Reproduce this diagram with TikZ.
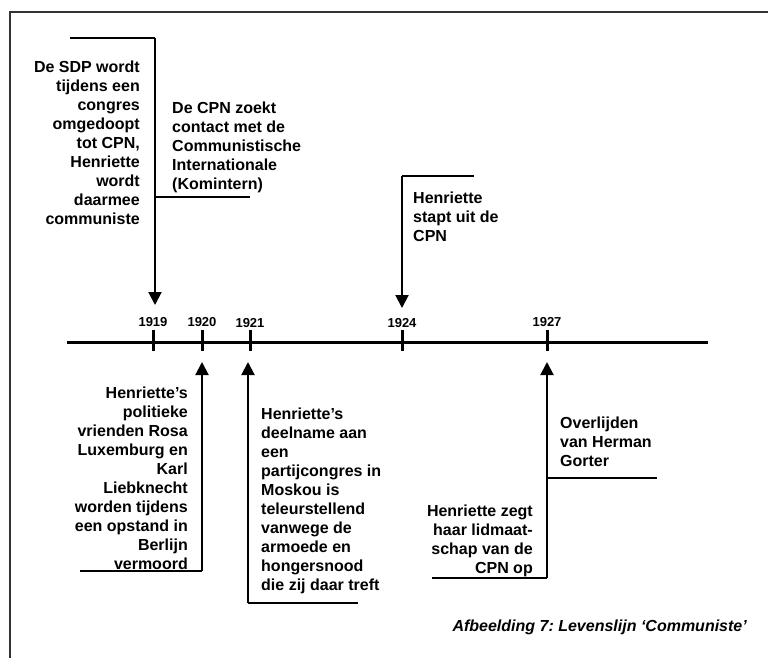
\documentclass[tikz,border=0pt]{standalone}
\usepackage{fontspec}
\setmainfont{Liberation Sans}
\usetikzlibrary{arrows.meta}
\frenchspacing
\begin{document}
\begin{tikzpicture}[x=1pt,y=-1pt,
  frame/.style={line width=2pt,draw=black!80},
  axis/.style={line width=3pt},
  tick/.style={line width=3pt},
  conn/.style={line width=2pt},
  arr/.style={line width=2pt,-{Triangle[width=13pt,length=13pt]}},
  yearlbl/.style={font=\fontsize{13}{15}\selectfont\bfseries,inner sep=0pt},
  txt/.style={font=\fontsize{16}{19}\selectfont\bfseries,inner sep=0pt},
  capt/.style={font=\fontsize{16}{19}\selectfont\bfseries\itshape,inner sep=0pt}]
\useasboundingbox (0,0) rectangle (768,657);
% frame
\coordinate (fbl) at (10,660);
\coordinate (ftl) at (10,12);
\coordinate (ftr) at (770,12);
\draw[frame] (fbl) -- (ftl) -- (ftr);
% timeline
\coordinate (tl0) at (67,342);
\coordinate (tl1) at (708,342);
\draw[axis] (tl0) -- (tl1);
\foreach \n/\x in {a/153,b/202,c/250,d/402,e/547}{
  \coordinate (t\n top) at (\x,330);
  \coordinate (t\n bot) at (\x,351);
  \draw[tick] (t\n top) -- (t\n bot);
}
\node[yearlbl] (y1919) at (153,322) {1919};
\node[yearlbl] (y1920) at (202,322) {1920};
\node[yearlbl] (y1921) at (250,323) {1921};
\node[yearlbl] (y1924) at (402,323) {1924};
\node[yearlbl] (y1927) at (547,322) {1927};
% 1919
\coordinate (a0) at (70,38);
\coordinate (a1) at (155,38);
\coordinate (a2) at (155,197);
\coordinate (a3) at (250,197);
\coordinate (a4) at (155,305);
\draw[conn] (a0) -- (a1);
\draw[arr] (a1) -- (a4);
\draw[conn] (a2) -- (a3);
\node[txt,align=right,anchor=north east] (t1) at (140,61) {De SDP wordt\\tijdens een\\congres\\omgedoopt\\tot CPN,\\Henriette\\wordt\\daarmee\\communiste};
\node[txt,align=left,anchor=north west] (t2) at (172,102) {De CPN zoekt\\contact met de\\Communistische\\Internationale\\(Komintern)};
% 1924
\coordinate (d0) at (474,176);
\coordinate (d1) at (402,176);
\coordinate (d2) at (402,308);
\draw[conn] (d0) -- (d1);
\draw[arr] (d1) -- (d2);
\node[txt,align=left,anchor=north west] (t3) at (413,192) {Henriette\\stapt uit de\\CPN};
% 1920
\coordinate (b0) at (80,571);
\coordinate (b1) at (202,571);
\coordinate (b2) at (202,362);
\draw[conn] (b0) -- (b1);
\draw[arr] (b1) -- (b2);
\node[txt,align=right,anchor=north east] (t4) at (188,387) {Henriette’s\\politieke\\vrienden Rosa\\Luxemburg en\\Karl\\Liebknecht\\worden tijdens\\een opstand in\\Berlijn\\vermoord};
% 1921
\coordinate (c0) at (358,603);
\coordinate (c1) at (248,603);
\coordinate (c2) at (248,362);
\draw[conn] (c0) -- (c1);
\draw[arr] (c1) -- (c2);
\node[txt,align=left,anchor=north west] (t5) at (261,408) {Henriette’s\\deelname aan\\een\\partijcongres in\\Moskou is\\teleurstellend\\vanwege de\\armoede en\\hongersnood\\die zij daar treft};
% 1927
\coordinate (e0) at (432,578);
\coordinate (e1) at (547,578);
\coordinate (e2) at (547,362);
\coordinate (e3) at (547,478);
\coordinate (e4) at (657,478);
\draw[conn] (e0) -- (e1);
\draw[arr] (e1) -- (e2);
\draw[conn] (e3) -- (e4);
\node[txt,align=right,anchor=north east] (t6) at (533,505) {Henriette zegt\\haar lidmaat-\\schap van de\\CPN op};
\node[txt,align=left,anchor=north west] (t7) at (560,417) {Overlijden\\van Herman\\Gorter};
% caption
\node[capt,anchor=east] (cap) at (747,627) {Afbeelding 7: Levenslijn ‘Communiste’};
\end{tikzpicture}
\end{document}
